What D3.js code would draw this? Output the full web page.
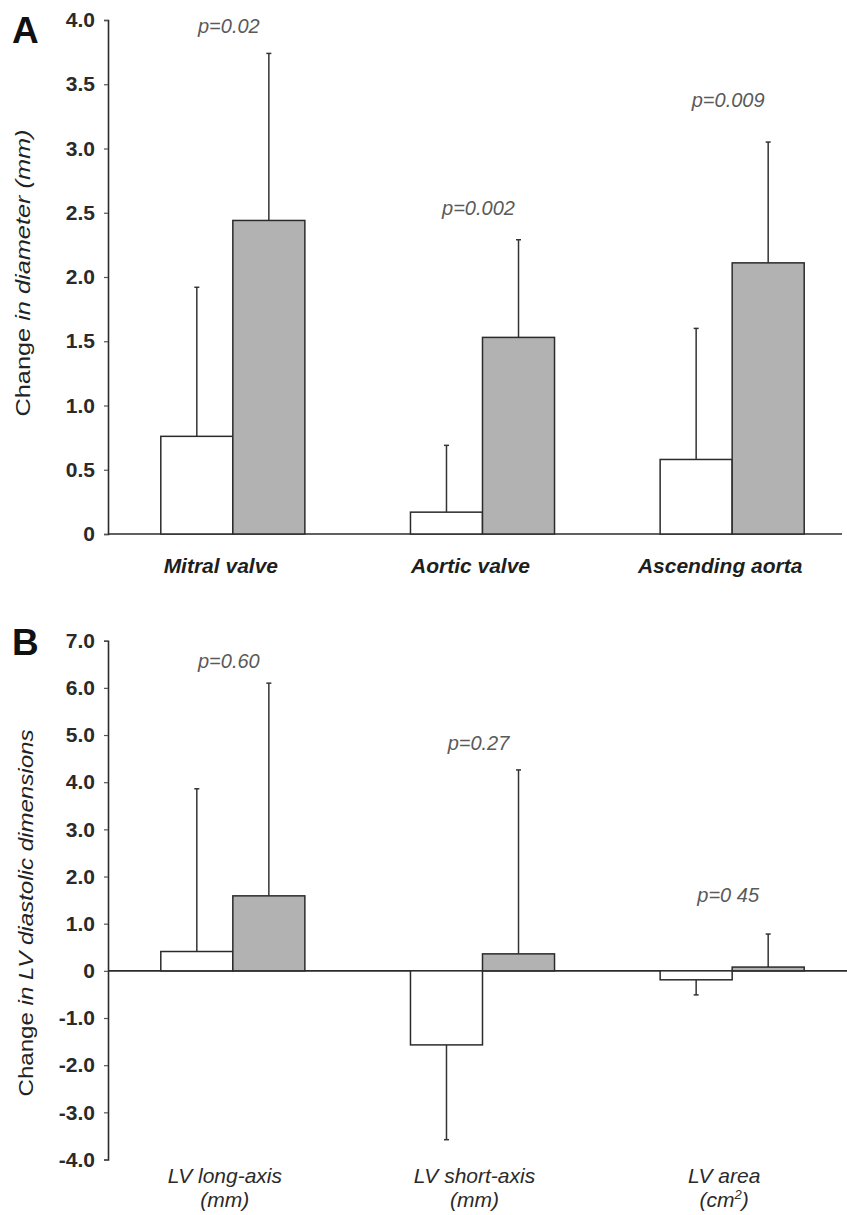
<!DOCTYPE html>
<html>
<head>
<meta charset="utf-8">
<script src="https://cdn.jsdelivr.net/npm/d3@7/dist/d3.min.js"></script>
<style>
  html, body { margin: 0; padding: 0; background: #fff; }
  svg { display: block; font-family: "Liberation Sans", Arial, Helvetica, sans-serif; }
</style>
</head>
<body>
<script>
// ---- Panel A: change in diameter (mm) ----
const categoriesA = ["Mitral valve", "Aortic valve", "Ascending aorta"];
const openMeansA = [0.76, 0.17, 0.58];
const openSDA = [1.16, 0.52, 1.02];
const filledMeansA = [2.44, 1.53, 2.11];
const filledSDA = [1.30, 0.76, 0.94];
const pLabelsA = ["p=0.02", "p=0.002", "p=0.009"];
const pLevelsA = [3.90, 2.48, 3.32];
const ticksA = [0, 0.5, 1.0, 1.5, 2.0, 2.5, 3.0, 3.5, 4.0];

// ---- Panel B: change in LV diastolic dimensions ----
const categoriesB = ["LV long-axis|(mm)", "LV short-axis|(mm)", "LV area|(cm^2)"];
const openMeansB = [0.41, -1.57, -0.19];
const openSDB = [3.45, 2.01, 0.32];
const filledMeansB = [1.59, 0.36, 0.08];
const filledSDB = [4.51, 3.90, 0.70];
const pLabelsB = ["p=0.60", "p=0.27", "p=0 45"];
const pLevelsB = [6.42, 4.68, 1.47];
const ticksB = [7, 6, 5, 4, 3, 2, 1, 0, -1, -2, -3, -4];

const W = 847, H = 1215;
const svg = d3.select("body").append("svg").attr("width", W).attr("height", H);

const INK = "#2b2b2b";
const FILL = "#b2b2b2";
const axisX = 108;

// one decimal, plain hyphen for negatives, bare "0" at zero
const fmtTick = d => d === 0 ? "0" : (d < 0 ? "-" : "") + Math.abs(d).toFixed(1);

// shared horizontal layout for the three groups of paired bars
function groupScale(cats) {
  return d3.scaleBand().domain(cats).range([axisX, 857]).paddingInner(0.423).paddingOuter(0.2115);
}

function drawPanel(opt) {
  const g = svg.append("g");
  const x0 = groupScale(opt.cats);
  const half = x0.bandwidth() / 2;
  const y = opt.y;

  // y axis
  const axis = d3.axisLeft(y)
    .tickValues(opt.ticks)
    .tickSize(4)
    .tickPadding(9)
    .tickFormat(fmtTick);
  const ax = g.append("g").attr("transform", `translate(${axisX},0)`).call(axis);
  ax.select(".domain").attr("stroke", INK).attr("stroke-width", 1.6);
  ax.selectAll(".tick line").attr("stroke", "#555").attr("stroke-width", 1.2);
  ax.selectAll(".tick text")
    .attr("fill", "#2a2a2a")
    .attr("font-size", 21)
    .attr("font-weight", "bold")
    .attr("font-family", "'Liberation Sans', Arial, sans-serif");

  // zero line
  g.append("line")
    .attr("x1", axisX).attr("x2", opt.zeroEnd)
    .attr("y1", y(0)).attr("y2", y(0))
    .attr("stroke", INK).attr("stroke-width", 1.6);

  const rows = opt.cats.map((c, i) => ({
    c, i,
    open: opt.open[i], openSD: opt.openSD[i],
    filled: opt.filled[i], filledSD: opt.filledSD[i]
  }));

  function bar(sel, key, dx, fill) {
    sel.append("rect")
      .attr("x", d => x0(d.c) + dx)
      .attr("width", half)
      .attr("y", d => y(Math.max(0, d[key])))
      .attr("height", d => Math.abs(y(d[key]) - y(0)))
      .attr("fill", fill)
      .attr("stroke", INK)
      .attr("stroke-width", 1.5);
  }
  // one-sided SD whisker, pointing away from zero
  function err(sel, key, sdKey, dx) {
    const cx = d => x0(d.c) + dx + half / 2;
    const tip = d => y(d[key] + Math.sign(d[key] || 1) * d[sdKey]);
    sel.append("line")
      .attr("x1", cx).attr("x2", cx)
      .attr("y1", d => y(d[key])).attr("y2", tip)
      .attr("stroke", "#333").attr("stroke-width", 1.5);
    sel.append("line")
      .attr("x1", d => cx(d) - 2.5).attr("x2", d => cx(d) + 2.5)
      .attr("y1", tip).attr("y2", tip)
      .attr("stroke", "#333").attr("stroke-width", 1.5);
  }

  const grp = g.selectAll("g.grp").data(rows).enter().append("g").attr("class", "grp");
  err(grp, "open", "openSD", 0);
  err(grp, "filled", "filledSD", half);
  bar(grp, "open", 0, "#fff");
  bar(grp, "filled", half, FILL);

  // p-values
  g.selectAll("text.p").data(rows).enter().append("text")
    .attr("class", "p")
    .attr("x", d => x0(d.c) + half - 4)
    .attr("y", d => y(opt.pLevels[d.i]))
    .attr("text-anchor", "middle")
    .attr("font-size", 20)
    .attr("font-style", "italic")
    .attr("fill", "#5a5a5a")
    .text(d => opt.pLabels[d.i]);

  // panel letter
  g.append("text")
    .attr("x", 12).attr("y", opt.letterY)
    .attr("font-size", 37).attr("font-weight", "bold").attr("fill", "#111")
    .text(opt.letter);

  // y title
  const t = g.append("text")
    .attr("transform", `translate(${opt.titleX},${opt.titleY}) rotate(-90)`)
    .attr("text-anchor", "middle")
    .attr("font-size", 21)
    .attr("fill", "#222")
    .attr("textLength", opt.titleLen)
    .attr("lengthAdjust", "spacingAndGlyphs");
  t.append("tspan").text(opt.title[0]);
  t.append("tspan").attr("font-style", "italic").text(opt.title[1]);

  return { g, x0, half };
}

// Panel A
const yA = d3.scaleLinear().domain([0, 4]).range([534, 20]);
const pA = drawPanel({
  cats: categoriesA, y: yA, ticks: ticksA,
  open: openMeansA, openSD: openSDA, filled: filledMeansA, filledSD: filledSDA,
  pLabels: pLabelsA, pLevels: pLevelsA,
  zeroEnd: 842, letter: "A", letterY: 43,
  title: ["Change ", "in diameter (mm)"], titleX: 30, titleY: 273, titleLen: 287
});
pA.g.selectAll("text.cat").data(categoriesA).enter().append("text")
  .attr("class", "cat")
  .attr("x", d => pA.x0(d) + pA.half - 12)
  .attr("y", 573)
  .attr("text-anchor", "middle")
  .attr("font-size", 21)
  .attr("font-weight", "bold")
  .attr("font-style", "italic")
  .attr("fill", "#1e1e1e")
  .text(d => d);

// Panel B
const yB = d3.scaleLinear().domain([-4, 7]).range([1159.5, 640.7]);
const pB = drawPanel({
  cats: categoriesB, y: yB, ticks: ticksB,
  open: openMeansB, openSD: openSDB, filled: filledMeansB, filledSD: filledSDB,
  pLabels: pLabelsB, pLevels: pLevelsB,
  zeroEnd: 847, letter: "B", letterY: 655,
  title: ["Change ", "in LV diastolic dimensions"], titleX: 33, titleY: 913, titleLen: 367
});
const catB = pB.g.selectAll("text.cat").data(categoriesB).enter().append("text")
  .attr("class", "cat")
  .attr("text-anchor", "middle")
  .attr("font-size", 21)
  .attr("font-style", "italic")
  .attr("fill", "#2a2a2a");
catB.append("tspan")
  .attr("x", d => pB.x0(d) + pB.half - 8)
  .attr("y", 1183)
  .text(d => d.split("|")[0]);
// second line: unit, with "^2" drawn as a superscript
catB.each(function (d) {
  const unit = d.split("|")[1];
  const parts = unit.split("^");
  const line = d3.select(this).append("tspan")
    .attr("x", pB.x0(d) + pB.half - 8)
    .attr("y", 1207);
  if (parts.length === 1) {
    line.text(unit);
  } else {
    line.text(parts[0]);
    d3.select(this).append("tspan")
      .attr("font-size", 13).attr("dy", -8)
      .text(parts[1].charAt(0));
    d3.select(this).append("tspan")
      .attr("dy", 8)
      .text(parts[1].slice(1));
  }
});
</script>
</body>
</html>
